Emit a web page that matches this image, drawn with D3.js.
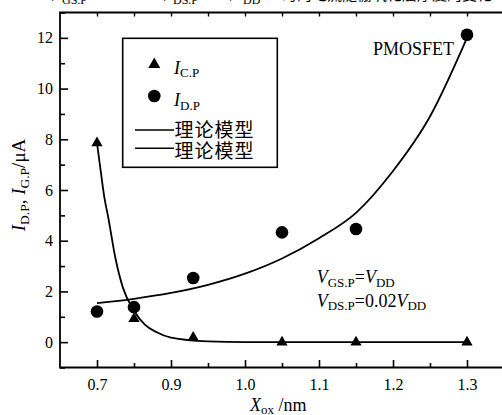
<!DOCTYPE html>
<html><head><meta charset="utf-8">
<script src="https://cdn.jsdelivr.net/npm/d3@7"></script>
<style>body{margin:0;background:#fff}svg{display:block}text{font-family:"Liberation Serif","DejaVu Serif","Times New Roman",Times,serif;fill:#000}</style>
</head><body><svg id="c" width="502" height="415"></svg>
<script>
// ---- data ----
const xTickValues = [0.7, 0.9, 1.0, 1.1, 1.2, 1.3];
const xTickLabels = ["0.7", "0.9", "1.0", "1.1", "1.2", "1.3"];
const xMinorValues = [0.8, 0.95, 1.05, 1.15, 1.25];
const yTickValues = [0, 2, 4, 6, 8, 10, 12];
const yMinorValues = [-1, 1, 3, 5, 7, 9, 11, 13];
const xPoints = [0.7, 0.8, 0.93, 1.05, 1.15, 1.3];
const iCP = [7.85, 0.92, 0.18, 0.0, 0.0, 0.0];
const iDP = [1.21, 1.38, 2.53, 4.33, 4.46, 12.12];
const fitDPx = [0.7, 0.8, 0.9, 0.95, 1.0, 1.05, 1.1, 1.15, 1.2, 1.25, 1.3];
const fitDPy = [1.54, 1.71, 1.94, 2.26, 2.70, 3.30, 4.10, 5.10, 6.75, 8.90, 12.0];
const fitCPx = [0.7, 0.71, 0.72, 0.73, 0.75, 0.77, 0.8, 0.83, 0.86, 0.9, 0.95, 1.0, 1.1, 1.2, 1.3];
const fitCPy = [7.85, 6.75, 5.7, 4.95, 3.3, 2.15, 1.24, 0.68, 0.4, 0.18, 0.03, 0.0, 0.0, 0.0, 0.0];
const legendLabels = ["C.P", "D.P", "理论模型", "理论模型"];

// ---- layout ----
const SERIF = "'Liberation Serif','DejaVu Serif','Times New Roman',serif";
const svg = d3.select("#c");
svg.append("rect").attr("width", 502).attr("height", 415).attr("fill", "#fff");
const pLeft = 60, pTop = 12.5, pBottom = 367.5, x07 = 97, step = 74;
const xDomain = [0.65].concat(xTickValues).concat([1.35]);
const xRange = [x07 - step / 2].concat(xTickValues.map((d, i) => x07 + i * step)).concat([x07 + 5.5 * step]);
const x = d3.scaleLinear().domain(xDomain).range(xRange);
const y = d3.scaleLinear().domain([-1, 13]).range([pBottom, pTop]);
const pRight = x(1.35);

// clipped caption line at the very top (cut off in the original)
const cap = svg.append("g").attr("font-size", 16);
[["V", 48], ["V", 160], ["V", 226]].forEach(d => {
  cap.append("text").attr("x", d[1]).attr("y", 0.5).attr("font-style", "italic").text(d[0]);
});
[["GS.P", 62], ["DS.P", 173], ["DD", 243]].forEach(d => {
  cap.append("text").attr("x", d[1]).attr("y", 3.5).attr("font-size", 12).text(d[0]);
});
cap.append("text").attr("x", 282).attr("y", -0.5).style("font-family", "'Noto Sans CJK SC'").attr("font-size", 15).text("时的电流随栅氧化层厚度的变化");

// axes frame
const frame = svg.append("g").attr("stroke", "#000").attr("stroke-width", 1.8).attr("fill", "none");
frame.append("path").attr("d", `M${pRight},${pTop}H${pLeft}V${pBottom}H${pRight}`);

// bottom axis (ticks inward)
const xb = d3.axisBottom(x).tickValues(xTickValues).tickFormat((d, i) => xTickLabels[i]).tickSize(-7.5).tickPadding(11);
const gxb = svg.append("g").attr("transform", `translate(0,${pBottom})`).call(xb);
gxb.select(".domain").remove();
gxb.selectAll("line").attr("stroke-width", 1.6);
gxb.selectAll("text").attr("font-size", 16).style("font-family", SERIF);
const xbm = d3.axisBottom(x).tickValues(xMinorValues).tickFormat("").tickSize(-4.5);
const gxbm = svg.append("g").attr("transform", `translate(0,${pBottom})`).call(xbm);
gxbm.select(".domain").remove();
gxbm.selectAll("line").attr("stroke-width", 1.6);

// top axis small ticks
const xt = d3.axisTop(x).tickValues(xTickValues.concat(xMinorValues)).tickFormat("").tickSize(-4);
const gxt = svg.append("g").attr("transform", `translate(0,${pTop})`).call(xt);
gxt.select(".domain").remove();
gxt.selectAll("line").attr("stroke-width", 1.4);

// left axis
const yl = d3.axisLeft(y).tickValues(yTickValues).tickSize(-8).tickPadding(7);
const gyl = svg.append("g").attr("transform", `translate(${pLeft},0)`).call(yl);
gyl.select(".domain").remove();
gyl.selectAll("line").attr("stroke-width", 1.6);
gyl.selectAll("text").attr("font-size", 16).style("font-family", SERIF);
const ylm = d3.axisLeft(y).tickValues(yMinorValues).tickFormat("").tickSize(-5);
const gylm = svg.append("g").attr("transform", `translate(${pLeft},0)`).call(ylm);
gylm.select(".domain").remove();
gylm.selectAll("line").attr("stroke-width", 1.6);

// fitted curves
const line = d3.line().x(d => x(d[0])).y(d => y(d[1])).curve(d3.curveMonotoneX);
svg.append("path").datum(fitDPx.map((d, i) => [d, fitDPy[i]])).attr("d", line)
  .attr("fill", "none").attr("stroke", "#000").attr("stroke-width", 1.8);
svg.append("path").datum(fitCPx.map((d, i) => [d, fitCPy[i]])).attr("d", line)
  .attr("fill", "none").attr("stroke", "#000").attr("stroke-width", 1.8);

// markers
const tri = d3.symbol().type(d3.symbolTriangle).size(55);
svg.selectAll("circle.dp").data(xPoints).enter().append("circle").attr("class", "dp")
  .attr("cx", d => x(d)).attr("cy", (d, i) => y(iDP[i])).attr("r", 6.3).attr("fill", "#000");
svg.selectAll("path.cp").data(xPoints).enter().append("path").attr("class", "cp")
  .attr("d", tri).attr("transform", (d, i) => `translate(${x(d)},${y(iCP[i])})`).attr("fill", "#000");

// legend
const lg = svg.append("g");
lg.append("rect").attr("x", 122.7).attr("y", 38.3).attr("width", 154.6).attr("height", 129)
  .attr("fill", "#fff").attr("stroke", "#000").attr("stroke-width", 1.6);
lg.append("path").attr("d", d3.symbol().type(d3.symbolTriangle).size(62)).attr("transform", "translate(154.3,64.5)").attr("fill", "#000");
lg.append("circle").attr("cx", 154.3).attr("cy", 96).attr("r", 6.3).attr("fill", "#000");
[[legendLabels[0], 73.5], [legendLabels[1], 106]].forEach(d => {
  const t = lg.append("text").attr("x", 174).attr("y", d[1]).attr("font-size", 18);
  t.append("tspan").attr("font-style", "italic").text("I");
  t.append("tspan").attr("font-size", 13).attr("dy", 3.5).text(d[0]);
});
[[legendLabels[2], 130, 136.5], [legendLabels[3], 148.3, 157.5]].forEach(d => {
  lg.append("line").attr("x1", 135).attr("x2", 174).attr("y1", d[1]).attr("y2", d[1]).attr("stroke", "#000").attr("stroke-width", 1.6);
  lg.append("text").attr("x", 174.5).attr("y", d[2]).attr("font-size", 19)
    .attr("textLength", 79).style("font-family", "'Noto Sans CJK SC'").text(d[0]);
});

// annotations
svg.append("text").attr("x", 373).attr("y", 55).attr("font-size", 18).text("PMOSFET");
function vtext(xp, yp, parts) {
  const t = svg.append("text").attr("x", xp).attr("y", yp).attr("font-size", 18);
  parts.forEach(p => {
    const s = t.append("tspan").text(p[0]);
    if (p[1] === "i") s.attr("font-style", "italic").attr("dy", p[2] || 0);
    if (p[1] === "s") s.attr("font-size", 13).attr("dy", 3.5);
    if (p[1] === "n") s.attr("dy", p[2] || 0);
  });
}
vtext(316.7, 283.3, [["V", "i"], ["GS.P", "s"], ["=", "n", -3.5], ["V", "i"], ["DD", "s"]]);
vtext(316.7, 306.7, [["V", "i"], ["DS.P", "s"], ["=0.02", "n", -3.5], ["V", "i"], ["DD", "s"]]);

// axis titles
const xl = svg.append("text").attr("x", 250).attr("y", 411).attr("font-size", 18);
xl.append("tspan").attr("font-style", "italic").text("X");
xl.append("tspan").attr("font-size", 13).attr("dy", 3).text("ox");
xl.append("tspan").attr("dy", -3).text(" /nm");

const ylab = svg.append("text").attr("transform", "translate(25,185) rotate(-90)").attr("text-anchor", "middle").attr("font-size", 19);
ylab.append("tspan").attr("font-style", "italic").text("I");
ylab.append("tspan").attr("font-size", 13.5).attr("dy", 3.5).text("D.P");
ylab.append("tspan").attr("dy", -3.5).text(", ");
ylab.append("tspan").attr("font-style", "italic").text("I");
ylab.append("tspan").attr("font-size", 13.5).attr("dy", 3.5).text("G.P");
ylab.append("tspan").attr("dy", -3.5).text("/μA");
</script></body></html>
